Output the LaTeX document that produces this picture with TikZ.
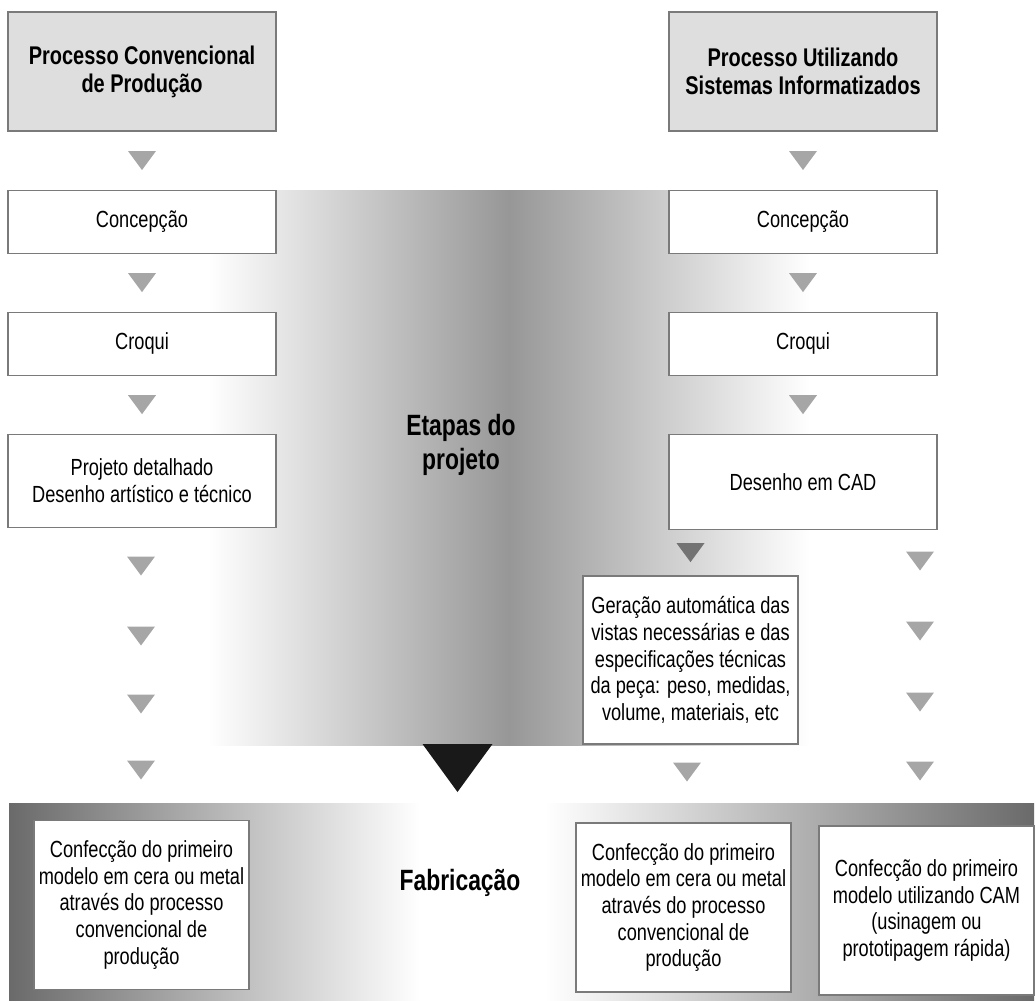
\documentclass[tikz,border=0pt]{standalone}
\usepackage{fontspec}
\setmainfont{Liberation Sans}[FakeStretch=0.78]
\usetikzlibrary{positioning,calc}
\definecolor{edgegray}{HTML}{7A7A7A}
\definecolor{headfill}{HTML}{DEDEDE}
\definecolor{trigray}{HTML}{A6A6A6}
\definecolor{tridark}{HTML}{737373}
\definecolor{banddark}{HTML}{6A6A6A}
\definecolor{midgray}{HTML}{979797}
\tikzset{
    stage/.style={
        rectangle,
        draw=edgegray,
        line width=0.8pt,
        fill=white,
        align=center,
        inner sep=2pt,
        font=\fontsize{17.5}{20}\selectfont,
        minimum width=268*0.75pt,
        minimum height=63*0.75pt
    },
    header/.style={
        stage,
        fill=headfill,
        font=\bfseries\fontsize{19.2}{21}\selectfont,
        minimum height=119*0.75pt
    },
    output/.style={
        stage,
        minimum width=215*0.75pt,
        minimum height=169*0.75pt
    },
    label/.style={
        align=center,
        font=\bfseries\fontsize{22}{25.5}\selectfont
    },
    tri/.pic={\fill[#1] (-14,-9.5) -- (14,-9.5) -- (0,9.5) -- cycle;},
    bigtri/.pic={\fill[black!90] (-35,-24) -- (35,-24) -- (0,24) -- cycle;}
}

\begin{document}
\begin{tikzpicture}[
    x=0.75pt, y=-0.75pt,
    node distance=43.5pt
]
\useasboundingbox (0,0) rectangle (1036,1001);

% Shaded backgrounds
\shade[left color=white, right color=white, middle color=midgray]
    (208,190) rectangle (810,745);
\shade[left color=banddark, right color=white] (9,803) rectangle (420,1000);
\shade[left color=white, right color=banddark] (545,803) rectangle (1034,1000);

% Conventional process
\node[header] (conv) at (142,71.5)
{
Processo Convencional\\de Produção
};

\node[stage, below=of conv] (concL) {Concepção};
\node[stage, below=of concL] (croqL) {Croqui};
\node[stage, below=of croqL, minimum height=93*0.75pt] (projL)
{
Projeto detalhado\\
Desenho artístico e técnico
};

\node[output] (fabL) at (141.5,905)
{
Confecção do primeiro\\
modelo em cera ou metal\\
através do processo\\
convencional de\\
produção
};

% Computer-aided process
\node[header] (info) at (803,71.5)
{
Processo Utilizando\\Sistemas Informatizados
};

\node[stage, below=of info] (concR) {Concepção};
\node[stage, below=of concR] (croqR) {Croqui};
\node[stage, below=of croqR, minimum height=95*0.75pt] (cad) {Desenho em CAD};

\node[output, minimum height=168*0.75pt] (geracao) at (690.5,660)
{
Geração automática das\\
vistas necessárias e das\\
especificações técnicas\\
da peça: peso, medidas,\\
volume, materiais, etc
};

\node[output] (fabM) at (683.5,907.5)
{
Confecção do primeiro\\
modelo em cera ou metal\\
através do processo\\
convencional de\\
produção
};

\node[output] (fabR) at (926.5,910.5)
{
Confecção do primeiro\\
modelo utilizando CAM\\
(usinagem ou\\
prototipagem rápida)
};

% Phase labels
\node[label] (etapas) at (461,445) {Etapas do\\projeto};
\node[label] (fabric) at (460,883) {Fabricação};

% Flow marks, left column
\pic at ($(conv.south)!0.5!(concL.north)$) {tri=trigray};
\pic at ($(concL.south)!0.5!(croqL.north)$) {tri=trigray};
\pic at ($(croqL.south)!0.5!(projL.north)$) {tri=trigray};
\foreach \y in {566,636,704,770}
    \pic at (141,\y) {tri=trigray};

% Flow marks, right column
\pic at ($(info.south)!0.5!(concR.north)$) {tri=trigray};
\pic at ($(concR.south)!0.5!(croqR.north)$) {tri=trigray};
\pic at ($(croqR.south)!0.5!(cad.north)$) {tri=trigray};
\pic at ($(geracao.north)!0.5!(geracao.north |- cad.south)$) {tri=tridark};
\pic at (687,772) {tri=trigray};
\foreach \y in {561,631,702,771}
    \pic at (920,\y) {tri=trigray};

% Into fabrication
\pic at (457.5,768) {bigtri};

\end{tikzpicture}
\end{document}
